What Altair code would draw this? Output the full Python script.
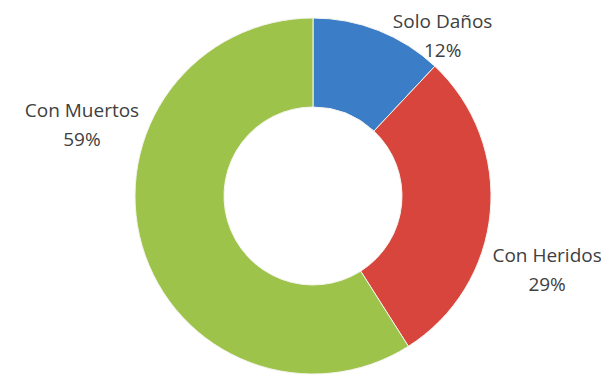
import altair as alt
import pandas as pd

categories = ["Solo Daños", "Con Heridos", "Con Muertos"]
values = [12, 29, 59]
order_idx = [0, 1, 2]
colors = ["#3b7dc7", "#d8453c", "#9dc34b"]

df = pd.DataFrame({"cat": categories, "val": values, "ord": order_idx})

R_OUT, R_IN = 178, 89

base = alt.Chart(df).encode(
    theta=alt.Theta("val:Q", stack=True),
    order=alt.Order("ord:Q"),
)

arcs = base.mark_arc(outerRadius=R_OUT, innerRadius=R_IN, stroke="#f4f4ee", strokeWidth=1).encode(
    color=alt.Color("cat:N", scale=alt.Scale(domain=categories, range=colors), legend=None),
)

offsets = {
    "Solo Daños": (56, 12),
    "Con Heridos": (35, 41),
    "Con Muertos": (-39, -141),
}

layers = [arcs]
for c in categories:
    dx, dy = offsets[c]
    t = base.mark_text(
        radius=200, dx=dx, dy=dy, font="Open Sans", fontSize=19, color="#404040",
        lineBreak="\n", lineHeight=29, align="center", baseline="middle",
    ).transform_calculate(
        label="datum.cat + '\\n' + datum.val + '%'",
        show=f"datum.cat == '{c}' ? 1 : 0",
    ).encode(
        text="label:N",
        opacity=alt.Opacity("show:Q", scale=None, legend=None),
    )
    layers.append(t)

chart = alt.layer(*layers).properties(
    width=576, height=358,
    padding={"left": 17, "top": 9, "right": 0, "bottom": 0},
    background="white",
    autosize=alt.AutoSizeParams(type="none"),
).configure_view(stroke=None)

chart.save("out.html", embed_options={"renderer": "svg", "actions": False})
